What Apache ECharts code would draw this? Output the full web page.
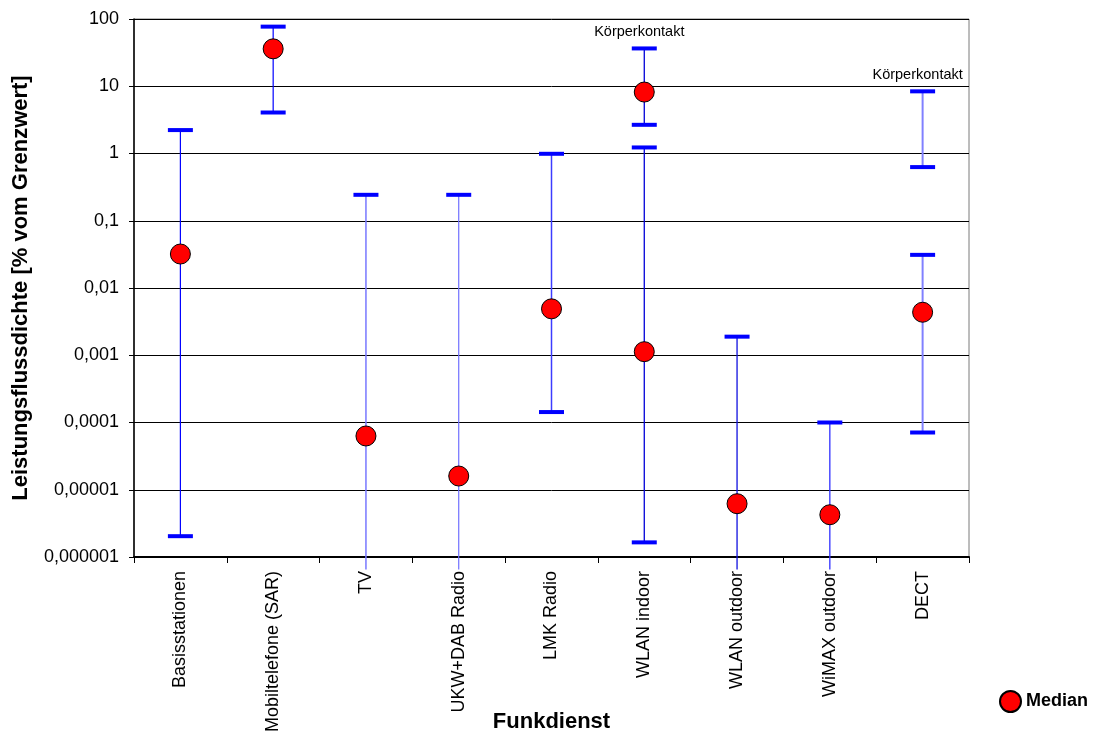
<!DOCTYPE html>
<html>
<head>
<meta charset="utf-8">
<script src="https://cdn.jsdelivr.net/npm/echarts@6/dist/echarts.min.js"></script>
<style>
html,body{margin:0;padding:0;background:#fff;}
#c{width:1095px;height:738px;}
</style>
</head>
<body>
<div id="c"></div>
<script>
const categories = ['Basisstationen','Mobiltelefone (SAR)','TV','UKW+DAB Radio','LMK Radio','WLAN indoor','WLAN outdoor','WiMAX outdoor','DECT'];
const rangeHigh = [2.23, 77, 0.243, 0.243, 0.99, 1.23, 0.00189, 0.0001, 0.0311];
const rangeLow  = [2.04e-6, 4.07, 6.5e-7, 6.5e-7, 1.43e-4, 1.65e-6, 6.5e-7, 6.5e-7, 7.1e-5];
const lowCapped = [1, 1, 0, 0, 1, 1, 0, 0, 1];
const medians   = [0.032, 36, 6.3e-5, 1.6e-5, 0.0049, 0.00113, 6.2e-6, 4.25e-6, 0.00436];
// Körperkontakt (body contact) ranges
const contactCats   = [5, 8];
const contactHigh   = [36.5, 8.4];
const contactLow    = [2.67, 0.628];
const contactMedian = [8.2, null];
const contactLabel  = 'Körperkontakt';
const yTicks = [1e-6,1e-5,1e-4,1e-3,1e-2,1e-1,1,10,100];

const lineColors = ['#0000ff','#0000ff','#7878ff','#7070ff','#3c3cff','#0000d8','#1010e0','#3030ff','#8080ff'];
const lineWidths = [1.2,1.2,1.5,1.2,1.5,1.3,1.3,1.3,2];
const FONT = '"Liberation Sans", Arial, sans-serif';

function fmtTick(v){
  const e = Math.round(Math.log10(v));
  if (e >= 0) return String(Math.pow(10,e));
  return '0,' + '0'.repeat(-e-1) + '1';
}

const mainData = categories.map((c,i)=>[i, rangeLow[i], rangeHigh[i], lowCapped[i]]);
const contactData = contactCats.map((ci,k)=>[ci, contactLow[k], contactHigh[k], 1]);
const medianData = medians.map((m,i)=>[i, m]).concat(
  contactCats.map((ci,k)=>[ci, contactMedian[k]]).filter(d=>d[1]!=null));

function makeRender(withLabel){
  return function(params, api){
    const i = api.value(0);
    const lo = api.value(1), hi = api.value(2), cap = api.value(3);
    const pHi = api.coord([i, hi]);
    const pLo = api.coord([i, lo]);
    const hw = 12.5;
    const col = lineColors[i];
    const children = [
      {type:'line', shape:{x1:pHi[0],y1:pHi[1],x2:pLo[0],y2:pLo[1]}, style:{stroke:col, lineWidth:lineWidths[i]}},
      {type:'line', shape:{x1:pHi[0]-hw,y1:pHi[1],x2:pHi[0]+hw,y2:pHi[1]}, style:{stroke:'#0000ff', lineWidth:4}}
    ];
    if (cap) children.push({type:'line', shape:{x1:pLo[0]-hw,y1:pLo[1],x2:pLo[0]+hw,y2:pLo[1]}, style:{stroke:'#0000ff', lineWidth:4}});
    if (withLabel) children.push({type:'text', x:pHi[0]-5, y:pHi[1]-16,
      style:{text:contactLabel, fill:'#000', font:'14.5px ' + FONT, align:'center', verticalAlign:'middle'}});
    return {type:'group', children};
  };
}

const chart = echarts.init(document.getElementById('c'), null, {renderer:'canvas'});
chart.setOption({
  animation:false,
  backgroundColor:'#fff',
  textStyle:{fontFamily:FONT},
  grid:{left:134, right:126, top:19, bottom:181, show:true, borderColor:'#7a7a7a', borderWidth:1,
        containLabel:false, outerBoundsMode:'none'},
  legend:{
    data:[{name:'Median', icon:'circle'}],
    left:994, top:685, itemWidth:21, itemHeight:21, itemGap:7,
    textStyle:{fontSize:18, fontWeight:'bold', color:'#000', fontFamily:FONT}
  },
  xAxis:{
    type:'category', data:categories, boundaryGap:true,
    name:'Funkdienst', nameLocation:'middle', nameGap:154, nameMoveOverlap:false,
    nameTextStyle:{fontSize:22, fontWeight:'bold', color:'#000'},
    axisLine:{lineStyle:{color:'#000', width:2}},
    axisTick:{show:true, length:6, lineStyle:{color:'#000'}},
    axisLabel:{rotate:90, fontSize:18, color:'#000', margin:14, interval:0},
    splitLine:{show:false}
  },
  yAxis:{
    type:'log', logBase:10, min:1e-6, max:100,
    name:'Leistungsflussdichte [% vom Grenzwert]', nameLocation:'middle', nameGap:102, nameMoveOverlap:false,
    nameTextStyle:{fontSize:22, fontWeight:'bold', color:'#000'},
    axisLine:{show:true, lineStyle:{color:'#000', width:1.5}},
    axisTick:{show:true, length:5, lineStyle:{color:'#000'}},
    axisLabel:{fontSize:18, color:'#000', margin:15, formatter:fmtTick},
    splitLine:{show:true, lineStyle:{color:'#000', width:1}},
    minorTick:{show:false}
  },
  series:[
    {type:'custom', name:'Range', renderItem:makeRender(false), data:mainData, encode:{x:0, y:[1,2]}, z:2, silent:true},
    {type:'custom', name:'Kontakt', renderItem:makeRender(true), data:contactData, encode:{x:0, y:[1,2]}, z:2, silent:true},
    {type:'scatter', name:'Median', data:medianData, symbol:'circle', symbolSize:20, z:5,
      itemStyle:{color:'#ff0000', borderColor:'#000', borderWidth:1, opacity:1}}
  ]
});
</script>
</body>
</html>
